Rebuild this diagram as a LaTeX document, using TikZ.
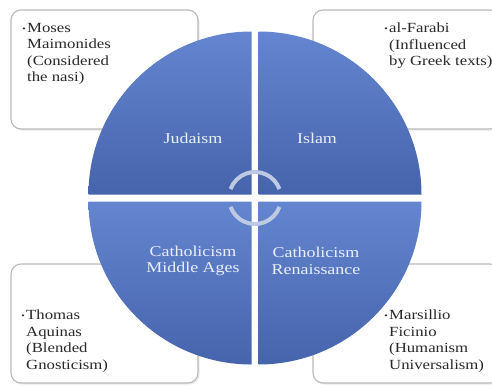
\documentclass[tikz,border=0pt]{standalone}
\usepackage{fontspec}
\setmainfont{Liberation Serif}[FakeStretch=1.2]
\definecolor{boxgray}{RGB}{185,185,185}
\definecolor{qtop}{RGB}{100,133,208}
\definecolor{qbot}{RGB}{70,100,172}
\definecolor{lbltext}{RGB}{235,239,248}
\definecolor{txtcol}{RGB}{40,40,40}
\definecolor{arccol}{RGB}{190,202,228}
\newcommand\mybul{\llap{\raisebox{1bp}{\fontsize{8}{8}\selectfont\textbullet}\hspace{1.5bp}}}
\begin{document}
\begin{tikzpicture}[x=1bp,y=1bp,
  box/.style={draw=boxgray, line width=1.1bp, rounded corners=10bp, fill=white,
    minimum width=187bp, minimum height=119bp, inner sep=0pt},
  shadowbox/.style={fill=black!8, rounded corners=10bp, draw=none,
    minimum width=187bp, minimum height=119bp, inner sep=0pt},
  quad/.style={top color=qtop, bottom color=qbot, draw=none},
  lbl/.style={text=lbltext, align=center, font=\fontsize{15}{16.5}\selectfont, inner sep=0pt},
  btxt/.style={text=txtcol, align=left, anchor=north west, font=\fontsize{14}{16.5}\selectfont, inner sep=0pt},
  cyc/.style={draw=arccol, line width=4bp}
]
\useasboundingbox (0,0) rectangle (492,385);
\clip (0,0) rectangle (492,385);
\fill[white] (0,0) rectangle (492,385);

% shadows
\node[shadowbox] (s1) at (106,314) {};
\node[shadowbox] (s2) at (408,314) {};
\node[shadowbox] (s3) at (106,60) {};
\node[shadowbox] (s4) at (408,60) {};
% boxes
\node[box] (b1) at (104.5,315.5) {};
\node[box] (b2) at (406.5,315.5) {};
\node[box] (b3) at (104.5,61.5) {};
\node[box] (b4) at (406.5,61.5) {};

% box texts
\node[btxt] (t1) at (27,362) {\mybul Moses\\Maimonides\\(Considered\\the nasi)};
\node[btxt] (t2) at (389,362) {\mybul al-Farabi\\(Influenced\\by Greek texts)};
\node[btxt] (t3) at (26,75) {\mybul Thomas\\Aquinas\\(Blended\\Gnosticism)};
\node[btxt] (t4) at (389,75) {\mybul Marsillio\\Ficinio\\(Humanism\\Universalism)};

% quadrants
\shade[quad] (251.5,190.5) -- ++(180:163) arc[start angle=180, end angle=90, radius=163] -- cycle;
\shade[quad] (258.5,190.5) -- ++(90:163) arc[start angle=90, end angle=0, radius=163] -- cycle;
\shade[quad] (251.5,183.5) -- ++(180:163) arc[start angle=180, end angle=270, radius=163] -- cycle;
\shade[quad] (258.5,183.5) -- ++(270:163) arc[start angle=270, end angle=360, radius=163] -- cycle;

% labels
\node[lbl] (q1) at (193,247) {Judaism};
\node[lbl] (q2) at (317,247) {Islam};
\node[lbl] (q3) at (193,124) {Catholicism\\Middle Ages};
\node[lbl] (q4) at (316,124) {Catholicism\\Renaissance};

% central cycle arcs
\coordinate (c) at (255,187);
\draw[cyc] (c) ++(20:26) arc[start angle=20, end angle=160, radius=26];
\draw[cyc] (c) ++(200:26) arc[start angle=200, end angle=340, radius=26];
\end{tikzpicture}
\end{document}
